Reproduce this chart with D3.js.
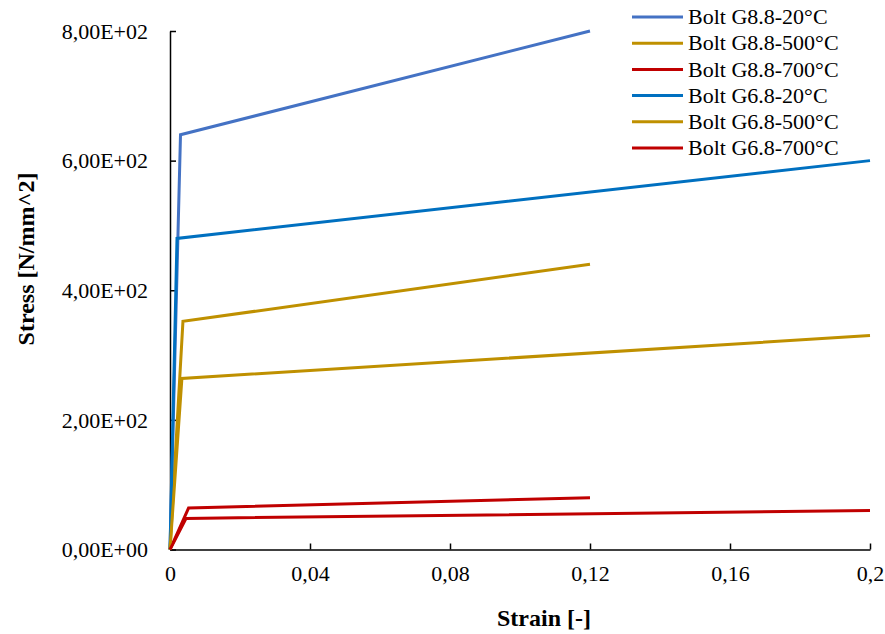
<!DOCTYPE html>
<html>
<head>
<meta charset="utf-8">
<script src="https://cdn.jsdelivr.net/npm/d3@7/dist/d3.min.js"></script>
<style>
  html, body { margin: 0; padding: 0; background: #fff; }
  svg { display: block; }
</style>
</head>
<body>
<svg id="chart" width="885" height="634"></svg>
<script>
// Stress-strain curves (bilinear) for bolt grades at different temperatures
const seriesNames = [
  "Bolt G8.8-20°C", "Bolt G8.8-500°C", "Bolt G8.8-700°C",
  "Bolt G6.8-20°C", "Bolt G6.8-500°C", "Bolt G6.8-700°C"
];
const seriesColors = ["#4472C4", "#BF9000", "#C00000", "#0070C0", "#BF9000", "#C00000"];
const strainG88_20  = [0, 0.003, 0.12];
const stressG88_20  = [0, 640, 800];
const strainG88_500 = [0, 0.0037, 0.12];
const stressG88_500 = [0, 352, 440];
const strainG88_700 = [0, 0.0053, 0.12];
const stressG88_700 = [0, 64, 80];
const strainG68_20  = [0, 0.002, 0.2];
const stressG68_20  = [0, 480, 600];
const strainG68_500 = [0, 0.0034, 0.2];
const stressG68_500 = [0, 264, 330];
const strainG68_700 = [0, 0.0046, 0.2];
const stressG68_700 = [0, 48, 60];
const xTicks = [0, 0.04, 0.08, 0.12, 0.16, 0.2];
const xTickLabels = ["0", "0,04", "0,08", "0,12", "0,16", "0,2"];
const yTicks = [0, 200, 400, 600, 800];
const yTickLabels = ["0,00E+00", "2,00E+02", "4,00E+02", "6,00E+02", "8,00E+02"];

const FONT = "'Liberation Serif', 'Times New Roman', serif";

const strains = [strainG88_20, strainG88_500, strainG88_700, strainG68_20, strainG68_500, strainG68_700];
const stresses = [stressG88_20, stressG88_500, stressG88_700, stressG68_20, stressG68_500, stressG68_700];
const series = seriesNames.map((name, i) => ({
  name, color: seriesColors[i],
  points: strains[i].map((s, j) => [s, stresses[i][j]])
}));

const svg = d3.select("#chart");
const plotLeft = 170, plotRight = 870, plotTop = 31, plotBottom = 549.5;
const x = d3.scaleLinear().domain([0, 0.2]).range([plotLeft, plotRight]);
const y = d3.scaleLinear().domain([0, 800]).range([plotBottom, plotTop]);

// Axes with inward ticks
const xAxis = d3.axisBottom(x).tickValues(xTicks)
  .tickFormat((d, i) => xTickLabels[i]).tickSizeInner(-6).tickSizeOuter(0).tickPadding(16);
const yAxis = d3.axisLeft(y).tickValues(yTicks)
  .tickFormat((d, i) => yTickLabels[i]).tickSizeInner(-6).tickSizeOuter(0).tickPadding(22);

const gx = svg.append("g").attr("transform", `translate(0,${plotBottom})`).call(xAxis);
const gy = svg.append("g").attr("transform", `translate(${plotLeft},0)`).call(yAxis);
[gx, gy].forEach(g => {
  g.select(".domain").attr("stroke", "#000").attr("stroke-width", 1.5);
  g.selectAll(".tick line").attr("stroke", "#000").attr("stroke-width", 1.5);
  g.selectAll(".tick text").style("font-family", FONT).attr("font-size", 22).attr("fill", "#000");
});
gy.selectAll(".tick text").attr("dy", "0.33em");
gx.selectAll(".tick text").attr("dy", "0.71em");

// Curves
const line = d3.line().x(d => x(d[0])).y(d => y(d[1]));
svg.append("g").selectAll("path").data(series).join("path")
  .attr("d", d => line(d.points))
  .attr("fill", "none")
  .attr("stroke", d => d.color)
  .attr("stroke-width", 3)
  .attr("stroke-linejoin", "miter");

// Axis titles
svg.append("text").attr("x", 544).attr("y", 626)
  .attr("text-anchor", "middle").attr("font-size", 24).attr("font-weight", "bold")
  .style("font-family", FONT).text("Strain [-]");
svg.append("text").attr("transform", "translate(34,259) rotate(-90)")
  .attr("text-anchor", "middle").attr("font-size", 24).attr("font-weight", "bold")
  .style("font-family", FONT).text("Stress [N/mm^2]");

// Legend
const legend = svg.append("g").selectAll("g").data(series).join("g")
  .attr("transform", (d, i) => `translate(632,${17 + i * 26.2})`);
legend.append("line").attr("x1", 0).attr("x2", 51)
  .attr("stroke", d => d.color).attr("stroke-width", 3);
legend.append("text").attr("x", 56).attr("dy", "0.33em")
  .attr("font-size", 22).attr("fill", "#000")
  .style("font-family", FONT).text(d => d.name);
</script>
</body>
</html>
